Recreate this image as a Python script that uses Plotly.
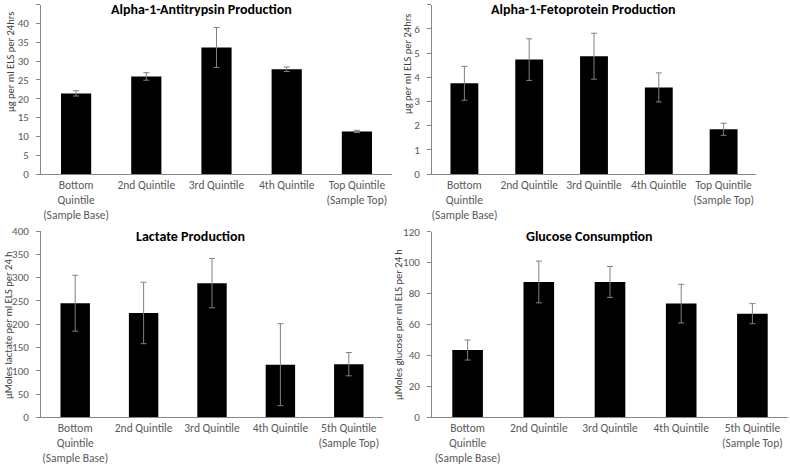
import plotly.graph_objects as go

cats_a = ["Bottom<br>Quintile<br>(Sample Base)", "2nd Quintile", "3rd Quintile", "4th Quintile", "Top Quintile<br>(Sample Top)"]
cats_b = ["Bottom<br>Quintile<br>(Sample Base)", "2nd Quintile", "3rd Quintile", "4th Quintile", "5th Quintile<br>(Sample Top)"]

aat_vals = [21.4, 25.9, 33.6, 27.8, 11.3]
aat_err = [0.7, 1.0, 5.3, 0.6, 0.3]
afp_vals = [3.75, 4.73, 4.87, 3.58, 1.85]
afp_err = [0.7, 0.86, 0.95, 0.6, 0.25]
lac_vals = [245, 224, 288, 113, 114]
lac_err = [60, 66, 53, 88, 25]
glu_vals = [43.5, 87.5, 87.5, 73.5, 67]
glu_err = [6.5, 13.5, 10, 12.5, 6.5]

titles = ["Alpha-1-Antitrypsin Production", "Alpha-1-Fetoprotein Production", "Lactate Production", "Glucose Consumption"]
ytitles = ["µg per ml ELS per 24hrs", "µg per ml ELS per 24hrs", "µMoles lactate per ml ELS per 24 h", "µMoles glucose per ml ELS per 24 h"]

W, H = 790, 466
FONT = "Carlito, Calibri, Lato"
TICKC = "#595959"

panels = [
    dict(cats=cats_a, v=aat_vals, e=aat_err, x0=41, x1=392, yt=4.5, yb=174, rng=[0, 45], dt=5,
         title_xy=(201, 10), ytitle_xy=(10, 62)),
    dict(cats=cats_a, v=afp_vals, e=afp_err, x0=432, x1=756, yt=4.7, yb=174, rng=[0, 7], dt=1,
         title_xy=(583, 10), ytitle_xy=(407, 64)),
    dict(cats=cats_b, v=lac_vals, e=lac_err, x0=41, x1=383, yt=231, yb=417.3, rng=[0, 400], dt=50,
         title_xy=(190, 237), ytitle_xy=(8, 325)),
    dict(cats=cats_b, v=glu_vals, e=glu_err, x0=432, x1=788, yt=231.7, yb=417.3, rng=[0, 120], dt=20,
         title_xy=(589, 237), ytitle_xy=(398, 325)),
]

fig = go.Figure()
annotations = []
for i, p in enumerate(panels):
    n = "" if i == 0 else str(i + 1)
    fig.add_trace(go.Bar(
        x=p["cats"], y=p["v"], xaxis="x" + n, yaxis="y" + n,
        marker=dict(color="black", line=dict(width=0)), width=0.43,
        error_y=dict(type="data", array=p["e"], visible=True, color="#808080", thickness=1, width=3),
        showlegend=False,
    ))
    xd = [p["x0"] / W, p["x1"] / W]
    yd = [1 - p["yb"] / H, 1 - p["yt"] / H]
    fig.update_layout(**{
        "xaxis" + n: dict(domain=xd, anchor="y" + n, showline=True, linecolor="#868686", linewidth=1,
                          ticks="", tickangle=0, automargin=False,
                          tickfont=dict(family=FONT, size=11.5, color=TICKC), fixedrange=True),
        "yaxis" + n: dict(domain=yd, anchor="x" + n, range=p["rng"], dtick=p["dt"], showline=True,
                          linecolor="#868686", linewidth=1, ticks="outside", ticklen=4, tickcolor="#868686",
                          showgrid=False, zeroline=False, ticklabelstandoff=5, automargin=False,
                          tickfont=dict(family=FONT, size=11, color=TICKC)),
    })
    annotations.append(dict(text="<b>" + titles[i] + "</b>", x=p["title_xy"][0] / W, y=1 - p["title_xy"][1] / H,
                            xref="paper", yref="paper", showarrow=False, xanchor="center", yanchor="middle",
                            font=dict(family=FONT, size=14, color="black")))
    annotations.append(dict(text=ytitles[i], x=p["ytitle_xy"][0] / W, y=1 - p["ytitle_xy"][1] / H,
                            xref="paper", yref="paper", showarrow=False, xanchor="center", yanchor="middle",
                            textangle=-90, font=dict(family=FONT, size=10.5, color="#404040")))

fig.update_layout(width=W, height=H, margin=dict(l=0, r=0, t=0, b=0, autoexpand=False),
                  paper_bgcolor="white", plot_bgcolor="white",
                  annotations=annotations)
fig.write_html("out.html", config={"displayModeBar": False},
               post_script="document.body.style.margin='0';document.body.style.padding='0';")
